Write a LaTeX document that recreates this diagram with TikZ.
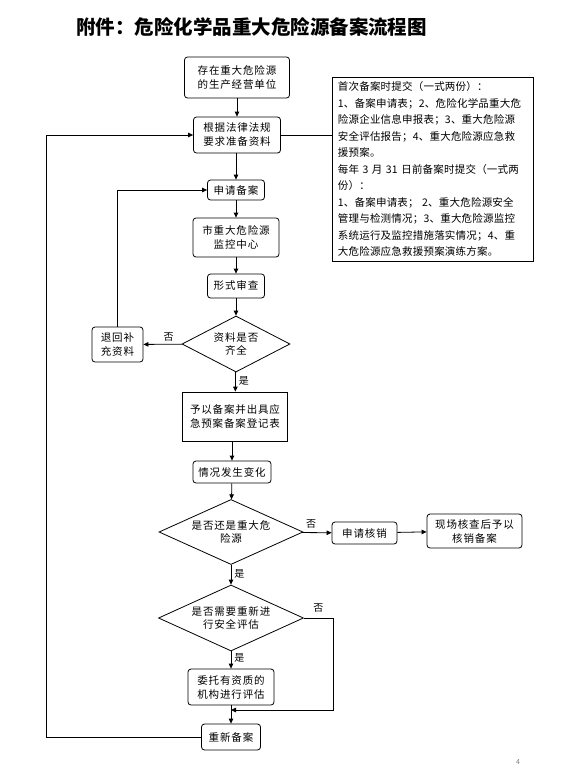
\documentclass[tikz,border=0pt]{standalone}
\usepackage{fontspec}
\setmainfont{Noto Sans CJK SC}
\newfontfamily\boxfont{Noto Sans CJK SC}[LetterSpace=8]
\newfontfamily\notefont{Noto Sans CJK SC}[LetterSpace=2]
\usepackage{tikz}
\usetikzlibrary{arrows.meta,shapes.geometric}

\begin{document}
\begin{tikzpicture}[
  x=1pt, y=-1pt,
  >={Triangle[length=5pt,width=4.5pt]},
  box/.style={draw, rounded corners=3pt, align=center, font=\boxfont\fontsize{10.5}{14}\selectfont, inner sep=1pt, line width=0.8pt},
  sqbox/.style={draw, align=center, font=\boxfont\fontsize{10.5}{14}\selectfont, inner sep=1pt, line width=0.8pt},
  decision/.style={draw, diamond, aspect=2.2, inner sep=0pt, align=center, font=\boxfont\fontsize{10.5}{13}\selectfont, line width=0.8pt},
  note/.style={draw, align=left, text width=190pt, inner xsep=5.5pt, inner ysep=2pt, font=\notefont\fontsize{10.5}{16.5}\selectfont, line width=0.8pt},
  lbl/.style={font=\boxfont\fontsize{10}{12}\selectfont, inner sep=0pt},
  arrow/.style={->, line width=0.8pt}
]
\fill[white] (0,0) rectangle (568,771);
\useasboundingbox (0,0) rectangle (568,771);

\node[font=\fontsize{19.5}{22}\selectfont\bfseries] (title) at (251.5,27) {附件：危险化学品重大危险源备案流程图};

\node[box, minimum width=105pt, minimum height=41pt] (unit) at (237,77.5) {存在重大危险源\\的生产经营单位};
\node[box, minimum width=87pt, minimum height=36pt] (prep) at (237,135) {根据法律法规\\要求准备资料};
\node[note, minimum height=184pt, anchor=north west] (docs) at (332,77) {首次备案时提交（一式两份）：\\
1、备案申请表；2、危险化学品重大危\\
险源企业信息申报表；3、重大危险源\\
安全评估报告；4、重大危险源应急救\\
援预案。\\
每年~3~月~31~日前备案时提交（一式两\\
份）：\\
1、备案申请表；~2、重大危险源安全\\
管理与检测情况；3、重大危险源监控\\
系统运行及监控措施落实情况；4、重\\
大危险源应急救援预案演练方案。};
\node[box, minimum width=57pt, minimum height=20pt] (apply) at (236,190) {申请备案};
\node[box, minimum width=86pt, minimum height=39pt] (center) at (236,237.5) {市重大危险源\\监控中心};
\node[box, minimum width=57pt, minimum height=24pt] (check) at (236,286) {形式审查};
\node[decision, minimum width=108pt, minimum height=56pt] (full) at (236,344) {资料是否\\齐全};
\node[box, minimum width=51pt, minimum height=35pt] (back) at (117.5,344.5) {退回补\\充资料};
\node[sqbox, minimum width=105pt, minimum height=49pt] (record) at (235,416.5) {予以备案并出具应\\急预案备案登记表};
\node[box, minimum width=78pt, minimum height=22pt] (change) at (232,472) {情况发生变化};
\node[decision, minimum width=144pt, minimum height=65pt] (still) at (231,532) {是否还是重大危\\险源};
\node[box, minimum width=65pt, minimum height=22pt] (cancel) at (364.5,533) {申请核销};
\node[box, minimum width=95pt, minimum height=34pt] (site) at (474.5,531) {现场核查后予以\\核销备案};
\node[decision, minimum width=145pt, minimum height=66pt] (reeval) at (231,618) {是否需要重新进\\行安全评估};
\node[box, minimum width=86pt, minimum height=36pt] (entrust) at (231,687) {委托有资质的\\机构进行评估};
\node[box, minimum width=59pt, minimum height=26pt] (refile) at (231,737) {重新备案};

\coordinate (loopx) at (46,0);
\coordinate (rcorner) at (333,710);
\coordinate (merge) at (231,710);

\draw[arrow] (unit) -- (prep);
\draw[line width=0.8pt] (prep.east) -- (prep.east -| docs.west);
\draw[arrow] (prep.south -| apply.north) -- (apply);
\draw[arrow] (apply) -- (center);
\draw[arrow] (center) -- (check);
\draw[arrow] (check) -- (full);
\draw[arrow] (full) -- node[lbl, above=3pt, pos=0.35] {否} (back);
\draw[arrow] (back.north) |- (apply.west);
\draw[arrow] (full) -- node[lbl, right=3pt, pos=0.45] {是} (record);
\draw[arrow] (record.south -| change.north) -- (change);
\draw[arrow] (change) -- (still);
\draw[arrow] (still) -- node[lbl, above=4pt, pos=0.3] {否} (cancel);
\draw[arrow] (cancel) -- (site);
\draw[arrow] (still) -- node[lbl, right=3pt, pos=0.45] {是} (reeval);
\draw[arrow] (reeval) -- node[lbl, right=3pt, pos=0.4] {是} (entrust);
\draw[arrow] (reeval.east) -| node[lbl, above=5pt, pos=0.25] {否} (rcorner) -- (merge);
\draw[arrow] (entrust) -- (refile);
\draw[arrow] (refile.west) -- (refile.west -| loopx) -- (loopx |- prep.west) -- (prep.west);

\node[font=\fontsize{7}{8}\selectfont, text=black!50] (page) at (518,762) {4};
\end{tikzpicture}
\end{document}
